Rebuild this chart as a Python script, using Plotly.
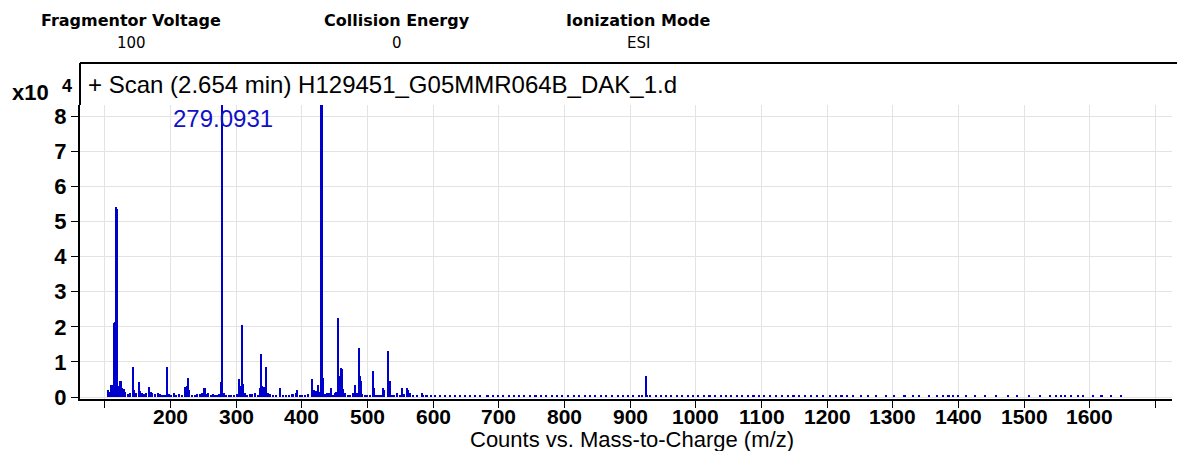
import plotly.graph_objects as go

# ---------------- data (intensity in units of 10^4 counts) ----------------
mz = [104.5, 107, 110, 112, 114, 115, 117.6, 118.3, 120.5, 124, 127, 129, 131, 135, 138.5,
      143, 144.5, 147, 152, 154, 156, 160, 163, 167.5, 170, 172, 177, 181, 184, 188, 191,
      195, 198, 201, 205, 209, 213, 218, 223, 225, 227, 229, 233, 238, 241, 245, 248, 252,
      255, 258, 262, 265, 268, 271, 274, 277, 279.0931, 281, 285, 289, 293, 297, 301, 304.5,
      306.5, 309, 310.5, 313, 317, 321, 325, 329, 333, 336, 338.6, 340, 342, 344, 346, 349,
      352, 356, 361, 367.5, 371, 376, 381, 386, 391, 393, 397, 401, 405, 410, 415.7, 418,
      421, 425, 427, 430.1, 432.5, 435, 438, 441, 445, 448, 451, 453, 454.8, 456.2, 458,
      459.4, 461, 463, 466, 470, 474, 478, 481, 484, 486.8, 488.2, 489.5, 492, 496, 500,
      504, 508.6, 510.5, 513, 517, 521, 524, 526, 531.5, 534, 537, 541, 545, 549, 553, 555,
      560, 562, 565, 570, 576, 583, 585, 590,
      597, 603, 611, 618, 626, 634, 641, 649, 657, 664, 672, 682, 684, 691, 699, 707, 715,
      723, 731, 739, 748, 756, 764, 772, 781, 789, 797, 806, 814, 822, 831, 839, 847, 856,
      864, 872, 881, 889, 897, 905, 913, 918, 924.3, 926, 931, 939, 947, 955, 963, 971, 979,
      988, 996, 1004, 1013, 1021, 1029, 1038, 1046, 1054, 1063, 1071, 1079, 1088, 1096,
      1104, 1113, 1122, 1131, 1140, 1149, 1158, 1167, 1176, 1185, 1194, 1204, 1213, 1222,
      1231, 1240, 1252, 1263, 1275, 1290, 1302, 1318, 1331, 1340, 1356, 1367, 1376, 1385,
      1392, 1400, 1412, 1426, 1440, 1458, 1475, 1490, 1507, 1525, 1540, 1549, 1556, 1563,
      1572, 1582, 1590, 1605, 1618, 1632, 1648]
intensity = [0.20, 0.15, 0.35, 0.33, 2.10, 2.15, 5.40, 5.35, 0.30, 0.45, 0.25, 0.22, 0.15, 0.08, 0.10,
             0.85, 0.20, 0.12, 0.42, 0.18, 0.10, 0.08, 0.12, 0.28, 0.15, 0.12, 0.08, 0.10, 0.09, 0.06, 0.07,
             0.85, 0.08, 0.06, 0.10, 0.07, 0.08, 0.06, 0.28, 0.30, 0.55, 0.20, 0.07, 0.06, 0.08, 0.09, 0.10, 0.25,
             0.08, 0.12, 0.07, 0.08, 0.07, 0.06, 0.09, 0.42, 8.90, 0.10, 0.06, 0.05, 0.07, 0.06, 0.08, 0.52,
             0.30, 2.05, 0.38, 0.10, 0.06, 0.09, 0.08, 0.10, 0.07, 0.25, 1.22, 0.30, 0.28, 0.15, 0.85, 0.12,
             0.08, 0.06, 0.05, 0.25, 0.06, 0.05, 0.07, 0.08, 0.10, 0.20, 0.05, 0.06, 0.05, 0.08, 0.50, 0.20,
             0.18, 0.35, 0.15, 8.80, 0.55, 0.08, 0.10, 0.12, 0.25, 0.06, 0.10, 0.15, 2.25, 0.60, 0.30,
             0.82, 0.80, 0.22, 0.10, 0.05, 0.06, 0.10, 0.35, 0.10, 1.40, 0.60, 0.45, 0.08, 0.06, 0.05,
             0.07, 0.75, 0.25, 0.06, 0.05, 0.07, 0.27, 0.20, 1.30, 0.45, 0.06, 0.05, 0.10, 0.05, 0.25, 0.08,
             0.25, 0.20, 0.10, 0.04, 0.04, 0.10, 0.05, 0.03,
             0.03, 0.04, 0.03, 0.03, 0.04, 0.03, 0.03, 0.04, 0.03, 0.03, 0.04, 0.07, 0.04, 0.03, 0.03, 0.04, 0.03,
             0.03, 0.04, 0.03, 0.03, 0.04, 0.03, 0.03, 0.04, 0.03, 0.03, 0.04, 0.03, 0.03, 0.04, 0.03, 0.03, 0.04,
             0.03, 0.03, 0.04, 0.03, 0.03, 0.04, 0.03, 0.03, 0.60, 0.05, 0.03, 0.04, 0.03, 0.03, 0.04, 0.03, 0.03,
             0.04, 0.03, 0.03, 0.04, 0.03, 0.03, 0.04, 0.03, 0.03, 0.04, 0.03, 0.03, 0.04, 0.03,
             0.03, 0.03, 0.04, 0.03, 0.03, 0.04, 0.03, 0.03, 0.04, 0.03, 0.03, 0.04, 0.03, 0.03,
             0.04, 0.03, 0.03, 0.03, 0.03, 0.03, 0.03, 0.03, 0.03, 0.03, 0.03, 0.03, 0.04, 0.03,
             0.03, 0.03, 0.03, 0.03, 0.03, 0.03, 0.03, 0.03, 0.03, 0.03, 0.03, 0.03, 0.04, 0.03,
             0.03, 0.03, 0.03, 0.03, 0.03, 0.03, 0.03]

x_ticks = [100, 200, 300, 400, 500, 600, 700, 800, 900, 1000, 1100, 1200, 1300, 1400, 1500, 1600, 1700]
x_ticktext = ["", "200", "300", "400", "500", "600", "700", "800", "900", "1000", "1100", "1200",
              "1300", "1400", "1500", "1600", ""]
y_ticks = [0, 1, 2, 3, 4, 5, 6, 7, 8]

header_titles = ["Fragmentor Voltage", "Collision Energy", "Ionization Mode"]
header_values = ["100", "0", "ESI"]
scan_title = "+ Scan (2.654 min) H129451_G05MMR064B_DAK_1.d"
x_title = "Counts vs. Mass-to-Charge (m/z)"
peak_label = "279.0931"
peak_label_mz = 279.0931

# ---------------- layout geometry (pixels) ----------------
W, H = 1177, 451
L, R, T, B = 80, 5, 105, 52
PW, PH = W - L - R, H - T - B


def px(xp):
    return (xp - L) / PW


def py(yp):
    return (H - B - yp) / PH


BLUE = "#0000CC"
FONT = "Liberation Sans, Arial, sans-serif"

fig = go.Figure()
fig.add_trace(go.Bar(x=mz, y=intensity, width=2.4, marker=dict(color=BLUE, line=dict(width=0)),
                     showlegend=False, hoverinfo="x+y"))

fig.update_layout(
    width=W, height=H,
    margin=dict(l=L, r=R, t=T, b=B, pad=0, autoexpand=False),
    paper_bgcolor="white", plot_bgcolor="white",
    bargap=0,
    xaxis=dict(range=[62, 1725], tickmode="array", tickvals=x_ticks, showticklabels=False,
               ticks="outside", ticklen=7, tickwidth=1, tickcolor="black", automargin=False,
               showline=True, linecolor="black", linewidth=2,
               showgrid=True, gridcolor="#e3e3e3", gridwidth=1, zeroline=False),
    yaxis=dict(range=[-0.057, 8.32], tickmode="array", tickvals=y_ticks,
               ticks="outside", ticklen=7, tickwidth=1, tickcolor="black", automargin=False,
               showline=True, linecolor="black", linewidth=2,
               showgrid=True, gridcolor="#e3e3e3", gridwidth=1, zeroline=False,
               tickfont=dict(family=FONT, size=22, color="black", weight="bold")),
)

# x tick labels placed on the x scale, just under the tick marks
for tv, tt in zip(x_ticks, x_ticktext):
    if tt:
        fig.add_annotation(text=tt, x=tv, xref="x", yref="paper", y=py(416), showarrow=False,
                           xanchor="center", yanchor="middle", borderpad=0,
                           font=dict(family=FONT, size=21, color="black", weight="bold"))

# frame extending above the plotting area
fig.add_shape(type="line", xref="paper", yref="paper", x0=0, x1=0, y0=1, y1=py(63),
              line=dict(color="black", width=2))
fig.add_shape(type="line", xref="paper", yref="paper", x0=0, x1=1.01, y0=py(63), y1=py(63),
              line=dict(color="black", width=2))

# header
header_x = [131, 397, 638]
for hx, t, v in zip(header_x, header_titles, header_values):
    fig.add_annotation(text=t, xref="paper", yref="paper", x=px(hx), y=py(20), showarrow=False,
                       xanchor="center", yanchor="middle",
                       font=dict(family="DejaVu Sans", size=16, color="black", weight="bold"))
    fig.add_annotation(text=v, xref="paper", yref="paper", x=px(hx), y=py(43), showarrow=False,
                       xanchor="center", yanchor="middle",
                       font=dict(family="DejaVu Sans", size=15, color="black"))

# scan title
fig.add_annotation(text=scan_title, xref="paper", yref="paper", x=px(86), y=py(84), showarrow=False,
                   xanchor="left", yanchor="middle",
                   font=dict(family=FONT, size=24, color="black"))

# x-axis title
fig.add_annotation(text=x_title, xref="paper", yref="paper", x=px(632), y=py(439), showarrow=False,
                   xanchor="center", yanchor="middle", borderpad=0,
                   font=dict(family=FONT, size=22, color="black"))

# exponent label
fig.add_annotation(text="x10", xref="paper", yref="paper", x=px(10), y=py(92), showarrow=False,
                   xanchor="left", yanchor="middle",
                   font=dict(family=FONT, size=22, color="black", weight="bold"))
fig.add_annotation(text="4", xref="paper", yref="paper", x=px(60), y=py(86), showarrow=False,
                   xanchor="left", yanchor="middle",
                   font=dict(family=FONT, size=18, color="black", weight="bold"))

# peak label
fig.add_annotation(text=peak_label, x=peak_label_mz, xref="x", yref="paper", y=py(118),
                   showarrow=False, xanchor="center", yanchor="middle",
                   font=dict(family=FONT, size=24, color="#1010C8"))

fig.write_html("out.html", config={"displayModeBar": False},
               post_script="document.body.style.margin='0';")
